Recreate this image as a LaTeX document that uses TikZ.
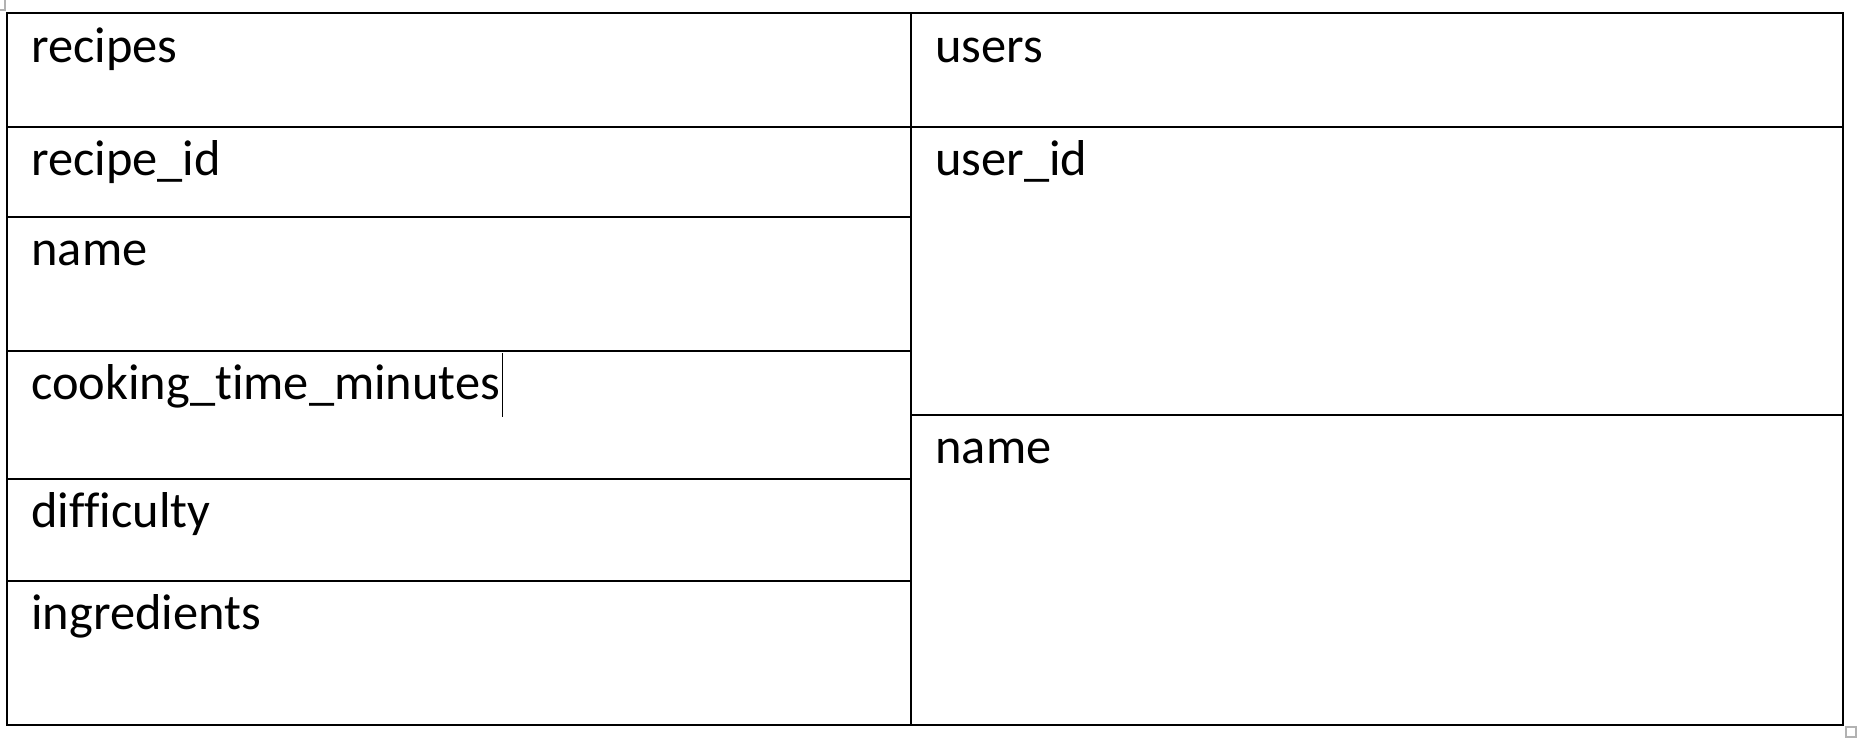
\documentclass[tikz,border=0pt]{standalone}
\usepackage{fontspec}
\setmainfont[Ligatures=NoCommon]{Carlito}
\begin{document}
\begin{tikzpicture}[x=0.5pt,y=-0.5pt,
  rule/.style={line width=1.4pt,black},
  cell/.style={anchor=base west,inner sep=0pt,font=\fontsize{25.2}{30}\selectfont},
  handle/.style={draw=gray!60,line width=0.6pt,fill=white}]
\useasboundingbox (0,0) rectangle (1858,740);
% outer frame
\draw[rule] (7,13) rectangle (1843,725);
% column divider
\draw[rule] (911,13) -- (911,725);
% left rows
\draw[rule] (7,127) -- (1843,127);
\draw[rule] (7,217) -- (911,217);
\draw[rule] (7,351) -- (911,351);
\draw[rule] (7,479) -- (911,479);
\draw[rule] (7,581) -- (911,581);
% right rows
\draw[rule] (911,415) -- (1843,415);
% texts
\node[cell] (recipes) at (31,62) {recipes};
\node[cell] (recipeid) at (31,175) {recipe\_id};
\node[cell] (rname) at (31,265) {name};
\node[cell] (cook) at (31,399) {cooking\_time\_minutes};
\node[cell] (diff) at (31,527) {difficulty};
\node[cell] (ingr) at (31,629) {ingredients};
\node[cell] (users) at (935,62) {users};
\node[cell] (userid) at (935,175) {user\_id};
\node[cell] (uname) at (935,463) {name};
% text cursor
\draw[line width=0.7pt] ([xshift=1pt]cook.base east |- 0,353) -- ([xshift=1pt]cook.base east |- 0,417);
% table handles
\draw[handle] (-2,-2) rectangle (5,10);
\draw[handle] (1846,727) rectangle (1856,737);
\end{tikzpicture}
\end{document}
